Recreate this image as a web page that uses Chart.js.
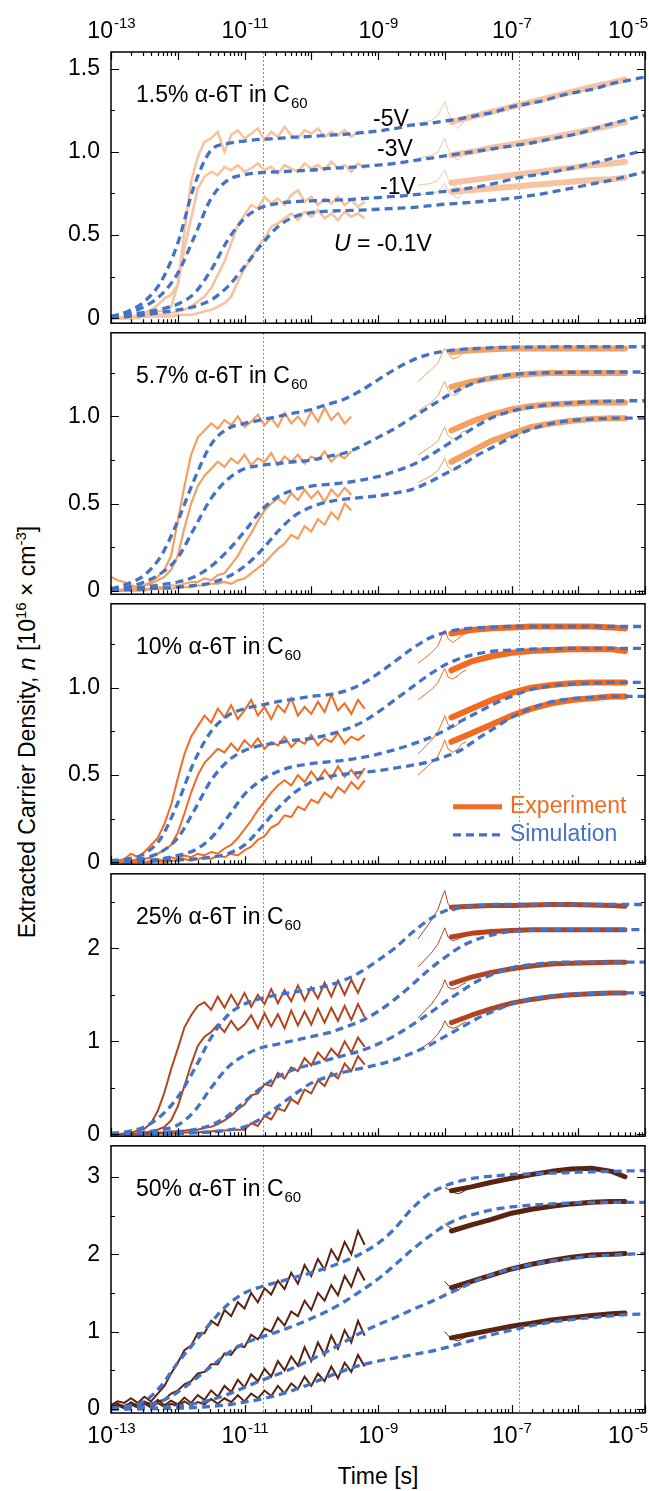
<!DOCTYPE html>
<html>
<head>
<meta charset="utf-8">
<script src="https://cdn.jsdelivr.net/npm/chart.js@4.4.0/dist/chart.umd.min.js"></script>
<style>
body { margin: 0; background: #fff; }
#wrap { position: relative; width: 649px; height: 1491px; overflow: hidden; font-family: "Liberation Sans", Arial, sans-serif; color: #000; }
#wrap canvas { position: absolute; left: 0; }
.lbl { position: absolute; white-space: nowrap; font-size: 23px; line-height: 1; transform: translate(-50%, -50%); }
#ytitle { left: 27px; top: 732px; transform: translate(-50%, -50%) rotate(-90deg); }
#xtitle { left: 378px; top: 1476px; }
.lbl sup { font-size: 15px; line-height: 0; vertical-align: 9px; }
</style>
</head>
<body>
<div id="wrap">
  <div class="lbl" id="ytitle">Extracted Carrier Density, <i>n</i> [10<sup>16</sup> × cm<sup>-3</sup>]</div>
  <div class="lbl" id="xtitle">Time [s]</div>
</div>
<script>
// log10(time) grids
const tSim = [-13, -12.75, -12.5, -12.25, -12, -11.75, -11.5, -11.25, -11, -10.75, -10.5, -10.25, -10, -9.75, -9.5, -9.25, -9, -8.75, -8.5, -8.25, -8, -7.75, -7.5, -7.25, -7, -6.75, -6.5, -6.25, -6, -5.75, -5.5, -5.25, -5];
const tEarly = [-13, -12.9, -12.8, -12.7, -12.6, -12.5, -12.4, -12.3, -12.2, -12.1, -12, -11.9, -11.8, -11.7, -11.6, -11.5, -11.4, -11.3, -11.2, -11.1, -11, -10.9, -10.8, -10.7, -10.6, -10.5, -10.4, -10.3, -10.2, -10.1, -10, -9.9, -9.8, -9.7, -9.6, -9.5, -9.4, -9.3, -9.2];
const tTrans = [-8.4, -8.2, -8.1, -8.04, -8, -7.95, -7.88, -7.8, -7.74, -7.68];
const tLate = [-7.9, -7.6, -7.3, -7, -6.7, -6.4, -6.1, -5.8, -5.5, -5.3];

// series order in every panel: U = -0.1 V, -1 V, -3 V, -5 V
const p1Sim = [
  [0.003,0.01,0.02,0.035,0.05,0.07,0.11,0.19,0.31,0.44,0.55,0.61,0.635,0.643,0.647,0.65,0.655,0.66,0.665,0.675,0.685,0.692,0.70,0.71,0.72,0.735,0.75,0.77,0.79,0.81,0.83,0.855,0.88],
  [0.005,0.02,0.035,0.055,0.085,0.15,0.29,0.47,0.6,0.665,0.69,0.70,0.705,0.708,0.712,0.718,0.725,0.732,0.74,0.75,0.762,0.775,0.79,0.81,0.835,0.855,0.87,0.89,0.91,0.935,0.96,0.985,1.01],
  [0.01,0.03,0.07,0.14,0.27,0.49,0.72,0.83,0.862,0.875,0.88,0.885,0.89,0.9,0.905,0.912,0.92,0.93,0.945,0.96,0.975,0.99,1.005,1.02,1.035,1.05,1.07,1.09,1.11,1.14,1.17,1.195,1.22],
  [0.01,0.04,0.1,0.22,0.45,0.8,1.01,1.05,1.065,1.075,1.08,1.088,1.093,1.1,1.105,1.115,1.125,1.14,1.16,1.17,1.185,1.2,1.22,1.24,1.27,1.29,1.31,1.34,1.36,1.38,1.41,1.43,1.45]
];
const p1Early = [
  [0,0,0,0,0,0.01,0.01,0.01,0.01,0.01,0.02,0.02,0.02,0.03,0.04,0.05,0.07,0.09,0.13,0.22,0.3,0.36,0.43,0.48,0.55,0.57,0.6,0.63,0.59,0.64,0.61,0.65,0.6,0.63,0.59,0.64,0.61,0.63,0.6],
  [0,0,0,0,0.01,0.01,0.01,0.02,0.02,0.03,0.04,0.05,0.07,0.1,0.13,0.18,0.26,0.34,0.45,0.56,0.62,0.68,0.66,0.73,0.69,0.72,0.68,0.74,0.77,0.7,0.73,0.68,0.72,0.69,0.73,0.68,0.71,0.67,0.7],
  [0,0,0,0.01,0.01,0.02,0.03,0.04,0.05,0.07,0.2,0.42,0.6,0.78,0.85,0.88,0.86,0.91,0.89,0.92,0.88,0.9,0.93,0.89,0.91,0.87,0.92,0.9,0.88,0.93,0.9,0.92,0.89,0.94,0.9,0.92,0.88,0.93,0.9],
  [0,0,0.01,0,0.02,0.03,0.05,0.08,0.12,0.14,0.2,0.52,0.82,0.97,1.06,1.08,1.12,1.0,1.1,1.13,1.08,1.11,1.14,1.07,1.12,1.09,1.15,1.1,1.08,1.13,1.11,1.14,1.09,1.12,1.1,1.13,1.09,1.12,1.11]
];
const p1Trans = [
  [0.74,0.75,0.76,0.79,0.81,0.77,0.74,0.72,0.75,0.76],
  [0.80,0.81,0.83,0.87,0.89,0.84,0.80,0.78,0.81,0.82],
  [0.96,0.98,1.0,1.05,1.08,1.02,0.97,0.95,0.98,0.99],
  [1.17,1.19,1.22,1.27,1.30,1.24,1.17,1.14,1.17,1.19]
];
const p1Late = [
  [0.76,0.77,0.78,0.79,0.80,0.81,0.82,0.83,0.835,0.845],
  [0.815,0.83,0.845,0.86,0.875,0.89,0.905,0.92,0.93,0.94],
  [0.98,1.0,1.025,1.045,1.065,1.085,1.11,1.135,1.16,1.18],
  [1.18,1.21,1.24,1.27,1.30,1.33,1.36,1.39,1.415,1.435]
];

const p2Sim = [
  [0.003,0.006,0.01,0.015,0.02,0.03,0.045,0.08,0.14,0.23,0.34,0.43,0.48,0.51,0.525,0.535,0.545,0.56,0.58,0.62,0.67,0.72,0.78,0.83,0.88,0.92,0.95,0.97,0.98,0.985,0.99,0.99,0.99],
  [0.005,0.01,0.02,0.035,0.05,0.08,0.14,0.23,0.34,0.46,0.54,0.58,0.6,0.61,0.62,0.635,0.655,0.685,0.72,0.77,0.83,0.89,0.95,1.0,1.03,1.05,1.065,1.075,1.08,1.085,1.088,1.09,1.09],
  [0.01,0.02,0.05,0.1,0.19,0.36,0.53,0.64,0.7,0.72,0.73,0.74,0.75,0.77,0.79,0.83,0.88,0.93,0.99,1.05,1.11,1.16,1.2,1.225,1.24,1.247,1.25,1.252,1.254,1.255,1.255,1.255,1.255],
  [0.01,0.04,0.09,0.2,0.4,0.64,0.84,0.93,0.96,0.98,1.0,1.02,1.04,1.07,1.1,1.15,1.21,1.27,1.32,1.355,1.375,1.385,1.39,1.395,1.397,1.398,1.399,1.4,1.4,1.4,1.4,1.4,1.4]
];
const p2Early = [
  [0,0,0,0,0,0,0.01,0.01,0.01,0.01,0.02,0.02,0.02,0.03,0.03,0.04,0.04,0.05,0.04,0.06,0.07,0.1,0.13,0.16,0.2,0.24,0.27,0.32,0.3,0.37,0.34,0.41,0.38,0.45,0.41,0.5,0.46,null,null],
  [0,0,0,0,0.01,0.01,0.01,0.02,0.02,0.03,0.03,0.04,0.05,0.05,0.07,0.06,0.09,0.1,0.15,0.2,0.27,0.33,0.4,0.46,0.5,0.53,0.5,0.56,0.52,0.58,0.53,0.57,0.51,0.58,0.54,0.59,0.55,null,null],
  [0,0,0.01,0.01,0.02,0.03,0.04,0.06,0.08,0.12,0.2,0.36,0.5,0.6,0.66,0.7,0.74,0.71,0.76,0.73,0.78,0.72,0.76,0.74,0.79,0.72,0.77,0.74,0.78,0.73,0.77,0.75,0.8,0.74,0.78,0.76,0.8,null,null],
  [0.08,0.06,0.05,0.03,0.02,0.03,0.05,0.08,0.12,0.2,0.4,0.6,0.78,0.88,0.92,0.96,0.93,0.98,0.95,1.0,0.94,0.97,1.01,0.95,0.99,0.94,1.02,0.96,1.0,0.95,1.03,0.97,1.05,0.98,1.02,0.96,1.0,null,null]
];
const p2Trans = [
  [0.62,0.66,0.69,0.73,0.76,0.71,0.69,0.7,0.73,0.74],
  [0.78,0.83,0.86,0.91,0.94,0.89,0.87,0.88,0.91,0.92],
  [1.03,1.08,1.12,1.17,1.2,1.15,1.12,1.13,1.16,1.17],
  [1.2,1.27,1.31,1.36,1.39,1.36,1.33,1.34,1.36,1.37]
];
const p2Late = [
  [0.74,0.8,0.86,0.9,0.94,0.96,0.975,0.985,0.99,0.99],
  [0.92,0.97,1.01,1.04,1.06,1.07,1.075,1.08,1.08,1.08],
  [1.17,1.2,1.22,1.235,1.245,1.25,1.25,1.25,1.25,1.25],
  [1.37,1.38,1.385,1.39,1.39,1.39,1.39,1.39,1.39,1.39]
];

const p3Sim = [
  [0.002,0.004,0.007,0.01,0.015,0.02,0.03,0.05,0.1,0.2,0.31,0.4,0.46,0.49,0.505,0.515,0.525,0.54,0.555,0.575,0.605,0.645,0.71,0.77,0.83,0.875,0.91,0.93,0.94,0.945,0.95,0.95,0.95],
  [0.003,0.006,0.01,0.02,0.04,0.07,0.14,0.26,0.39,0.47,0.52,0.55,0.565,0.575,0.585,0.6,0.62,0.645,0.675,0.71,0.755,0.81,0.86,0.91,0.95,0.985,1.005,1.017,1.023,1.027,1.03,1.03,1.03],
  [0.005,0.01,0.025,0.06,0.14,0.3,0.47,0.58,0.64,0.67,0.685,0.7,0.71,0.73,0.76,0.8,0.86,0.93,1.0,1.07,1.13,1.17,1.195,1.21,1.215,1.22,1.222,1.224,1.225,1.225,1.225,1.225,1.225],
  [0.01,0.02,0.05,0.14,0.34,0.58,0.75,0.84,0.88,0.9,0.92,0.935,0.95,0.96,0.98,1.02,1.08,1.15,1.22,1.28,1.315,1.335,1.343,1.347,1.35,1.35,1.35,1.35,1.35,1.35,1.35,1.35,1.35]
];
const p3Early = [
  [0,0,0,0,0,0,0,0.01,0,0.01,0.01,0.02,0.01,0.02,0.03,0.02,0.04,0.03,0.05,0.04,0.07,0.09,0.13,0.15,0.2,0.22,0.27,0.26,0.32,0.3,0.36,0.34,0.4,0.37,0.43,0.4,0.46,0.42,0.47],
  [0,0,0,0,0.01,0,0.01,0.02,0.01,0.03,0.02,0.04,0.03,0.05,0.04,0.06,0.05,0.08,0.1,0.14,0.19,0.24,0.3,0.35,0.4,0.44,0.47,0.44,0.5,0.46,0.52,0.47,0.53,0.48,0.55,0.49,0.53,0.48,0.54],
  [0,0,0.01,0.01,0.02,0.02,0.03,0.05,0.07,0.1,0.17,0.28,0.4,0.5,0.57,0.61,0.65,0.63,0.68,0.64,0.7,0.66,0.71,0.65,0.69,0.67,0.72,0.66,0.7,0.68,0.73,0.67,0.71,0.69,0.74,0.68,0.72,0.7,0.73],
  [0,0.01,0.02,0.05,0.03,0.06,0.1,0.14,0.22,0.33,0.48,0.62,0.72,0.78,0.84,0.8,0.88,0.83,0.9,0.82,0.87,0.93,0.84,0.89,0.82,0.9,0.86,0.94,0.84,0.89,0.85,0.92,0.86,0.96,0.87,0.91,0.85,0.93,0.88]
];
const p3Trans = [
  [0.5,0.57,0.61,0.66,0.7,0.65,0.63,0.65,0.68,0.69],
  [0.62,0.7,0.75,0.8,0.84,0.79,0.77,0.79,0.82,0.83],
  [0.93,0.99,1.03,1.08,1.11,1.06,1.05,1.07,1.09,1.1],
  [1.14,1.2,1.24,1.3,1.33,1.28,1.26,1.28,1.3,1.31]
];
const p3Late = [
  [0.69,0.74,0.79,0.84,0.88,0.91,0.93,0.94,0.95,0.95],
  [0.83,0.88,0.93,0.97,1.0,1.015,1.025,1.03,1.03,1.03],
  [1.1,1.15,1.18,1.2,1.21,1.215,1.22,1.22,1.22,1.21],
  [1.31,1.33,1.34,1.345,1.35,1.35,1.35,1.35,1.345,1.34]
];

const p4Sim = [
  [0.001,0.002,0.004,0.007,0.01,0.015,0.025,0.045,0.08,0.17,0.3,0.43,0.55,0.62,0.67,0.71,0.75,0.8,0.87,0.95,1.05,1.15,1.25,1.33,1.4,1.45,1.48,1.5,1.51,1.515,1.52,1.52,1.52],
  [0.002,0.005,0.01,0.02,0.03,0.05,0.1,0.2,0.35,0.5,0.62,0.7,0.75,0.8,0.85,0.9,0.97,1.06,1.17,1.29,1.42,1.54,1.65,1.73,1.79,1.82,1.84,1.85,1.85,1.85,1.85,1.85,1.85],
  [0.005,0.01,0.025,0.05,0.1,0.25,0.5,0.72,0.85,0.93,0.97,1.01,1.05,1.09,1.15,1.22,1.32,1.45,1.6,1.76,1.9,2.02,2.1,2.15,2.18,2.19,2.2,2.2,2.2,2.2,2.2,2.2,2.2],
  [0.01,0.03,0.08,0.2,0.4,0.7,1.04,1.28,1.4,1.46,1.5,1.53,1.56,1.6,1.66,1.75,1.87,2.0,2.16,2.3,2.4,2.44,2.46,2.47,2.47,2.47,2.47,2.47,2.47,2.47,2.47,2.47,2.47]
];
const p4Early = [
  [0,0,0,0,0,0,0,0.01,0.01,0.01,0.01,0.02,0.02,0.02,0.03,0.03,0.04,0.04,0.05,0.05,0.05,0.12,0.09,0.2,0.16,0.28,0.25,0.38,0.33,0.48,0.44,0.58,0.52,0.66,0.6,0.76,0.68,0.84,0.75],
  [0,0,0,0,0,0.01,0.01,0.02,0.02,0.03,0.03,0.04,0.05,0.05,0.07,0.08,0.11,0.15,0.2,0.27,0.32,0.42,0.44,0.54,0.52,0.66,0.6,0.72,0.68,0.82,0.74,0.88,0.8,0.92,0.84,1.0,0.88,1.04,0.94],
  [0,0,0,0.01,0.01,0.02,0.03,0.05,0.08,0.15,0.3,0.52,0.75,0.95,1.05,1.1,1.18,1.1,1.22,1.12,1.18,1.28,1.14,1.3,1.16,1.29,1.14,1.33,1.17,1.32,1.18,1.35,1.2,1.36,1.22,1.38,1.23,1.4,1.26],
  [0,0,0.01,0.02,0.04,0.06,0.12,0.25,0.45,0.7,0.92,1.15,1.28,1.38,1.42,1.34,1.48,1.36,1.5,1.38,1.52,1.37,1.5,1.4,1.56,1.41,1.55,1.43,1.6,1.44,1.58,1.46,1.63,1.48,1.65,1.5,1.66,1.52,1.68]
];
const p4Trans = [
  [0.9,1.0,1.08,1.15,1.22,1.16,1.14,1.16,1.19,1.21],
  [1.25,1.4,1.5,1.58,1.66,1.58,1.56,1.58,1.61,1.63],
  [1.8,1.95,2.05,2.15,2.22,2.12,2.08,2.1,2.12,2.13],
  [2.1,2.3,2.42,2.55,2.62,2.48,2.4,2.42,2.44,2.45]
];
const p4Late = [
  [1.2,1.28,1.35,1.41,1.45,1.48,1.5,1.51,1.52,1.52],
  [1.62,1.69,1.74,1.78,1.81,1.83,1.84,1.845,1.85,1.85],
  [2.12,2.16,2.18,2.19,2.2,2.2,2.2,2.2,2.2,2.2],
  [2.44,2.45,2.46,2.46,2.465,2.47,2.47,2.465,2.46,2.45]
];

const p5Sim = [
  [0.001,0.002,0.004,0.007,0.012,0.02,0.035,0.055,0.09,0.13,0.18,0.25,0.33,0.42,0.5,0.57,0.62,0.66,0.7,0.74,0.79,0.85,0.91,0.97,1.02,1.07,1.11,1.14,1.165,1.185,1.205,1.22,1.23],
  [0.002,0.005,0.01,0.02,0.04,0.07,0.12,0.19,0.28,0.37,0.45,0.54,0.64,0.75,0.87,0.99,1.09,1.18,1.28,1.37,1.47,1.57,1.67,1.75,1.81,1.86,1.9,1.93,1.955,1.975,1.99,2.0,2.01],
  [0.005,0.015,0.04,0.1,0.22,0.38,0.55,0.72,0.85,0.93,1.0,1.08,1.17,1.27,1.39,1.53,1.68,1.86,2.05,2.22,2.37,2.47,2.53,2.58,2.61,2.63,2.645,2.655,2.665,2.67,2.67,2.67,2.67],
  [0.01,0.04,0.1,0.3,0.6,0.86,1.12,1.35,1.5,1.58,1.64,1.7,1.76,1.83,1.91,2.01,2.14,2.33,2.58,2.77,2.88,2.95,2.99,3.01,3.03,3.035,3.045,3.05,3.06,3.065,3.07,3.075,3.08]
];
const p5Early = [
  [0.02,0.05,0.01,0.06,0.02,0.07,0.02,0.08,0.03,0.07,0.04,0.1,0.05,0.09,0.06,0.13,0.07,0.14,0.09,0.18,0.1,0.2,0.14,0.24,0.17,0.3,0.2,0.33,0.26,0.42,0.3,0.46,0.36,0.55,0.4,0.6,0.48,0.7,0.55],
  [0.03,0.07,0.02,0.09,0.03,0.1,0.04,0.12,0.05,0.11,0.06,0.15,0.08,0.18,0.12,0.24,0.16,0.3,0.22,0.38,0.28,0.45,0.36,0.52,0.42,0.62,0.5,0.68,0.56,0.8,0.62,0.86,0.7,0.95,0.78,1.02,0.86,1.14,0.95],
  [0.02,0.06,0.04,0.08,0.05,0.09,0.07,0.1,0.12,0.2,0.24,0.32,0.36,0.46,0.48,0.58,0.58,0.72,0.7,0.82,0.8,0.96,0.9,1.04,1.0,1.18,1.08,1.26,1.2,1.4,1.28,1.5,1.4,1.6,1.47,1.72,1.58,1.82,1.66],
  [0.05,0.1,0.08,0.14,0.08,0.16,0.1,0.2,0.3,0.46,0.6,0.76,0.82,0.98,0.98,1.14,1.08,1.28,1.2,1.38,1.3,1.5,1.38,1.56,1.48,1.66,1.55,1.76,1.62,1.86,1.72,1.94,1.8,2.06,1.92,2.16,2.0,2.3,2.12]
];
const p5Trans = [
  [null,null,null,null,1.0,0.95,0.9,0.88,0.91,0.93],
  [null,null,null,null,1.65,1.6,1.55,1.53,1.58,1.6],
  [null,null,null,null,2.4,2.36,2.32,2.3,2.33,2.35],
  [null,null,null,null,2.86,2.84,2.8,2.78,2.8,2.83]
];
const p5Late = [
  [0.92,0.97,1.02,1.07,1.11,1.15,1.18,1.21,1.23,1.24],
  [1.57,1.65,1.73,1.81,1.87,1.92,1.96,1.99,2.0,2.01],
  [2.3,2.38,2.45,2.53,2.58,2.62,2.65,2.67,2.68,2.68],
  [2.82,2.87,2.93,2.98,3.03,3.07,3.1,3.11,3.07,3.0]
];

// axis ticks
const xDecades = [-13, -12, -11, -10, -9, -8, -7, -6, -5];
const xLabelled = [-13, -11, -9, -7, -5];
const yMajor = [[0, 0.5, 1, 1.5], [0, 0.5, 1], [0, 0.5, 1], [0, 1, 2], [0, 1, 2, 3]];
const yLabels = [['0', '0.5', '1.0', '1.5'], ['0', '0.5', '1.0'], ['0', '0.5', '1.0'], ['0', '1', '2'], ['0', '1', '2', '3']];
const yMinorStep = [0.25, 0.25, 0.25, 0.5, 0.5];
const yRanges = [[-0.03, 1.6], [-0.02, 1.48], [-0.01, 1.48], [-0.02, 2.8], [-0.05, 3.4]];
const markerTimes = [1.9e-11, 1.3e-7];
const titles = ['1.5%', '5.7%', '10%', '25%', '50%'];

const panelData = [
  [p1Sim, p1Early, p1Trans, p1Late],
  [p2Sim, p2Early, p2Trans, p2Late],
  [p3Sim, p3Early, p3Trans, p3Late],
  [p4Sim, p4Early, p4Trans, p4Late],
  [p5Sim, p5Early, p5Trans, p5Late]
];

// layout / styles
const FONT = '"Liberation Sans", Arial, sans-serif';
const SIM_COLOR = '#4472C4';
const EXP_COLORS = ['#F8C3A0', '#F4A060', '#F26B21', '#B4441E', '#5A2410'];
const EARLY_W = [2.6, 2.2, 2, 2, 2];
const bounds = [52, 328, 599, 869, 1141, 1413];
const PAGE_W = 649, PLOT_L = 111, PLOT_R = 645;

function pts(t, v) {
  return t.map((e, i) => ({ x: Math.pow(10, e), y: v[i] }));
}

function drawPow(ctx, x, base, exp) {
  ctx.font = '23px ' + FONT;
  const w1 = ctx.measureText('10').width;
  ctx.font = '15px ' + FONT;
  const s = String(exp);
  const w2 = ctx.measureText(s).width;
  let x0 = x - (w1 + w2) / 2;
  x0 = Math.min(x0, PAGE_W - w1 - w2 - 2);
  ctx.textAlign = 'left';
  ctx.textBaseline = 'alphabetic';
  ctx.font = '23px ' + FONT;
  ctx.fillText('10', x0, base);
  ctx.font = '15px ' + FONT;
  ctx.fillText(s, x0 + w1 + 1, base - 10);
}

function panelPlugin(idx) {
  return {
    id: 'panel' + idx,
    beforeDatasetsDraw(chart) {
      const { ctx, chartArea: a, scales: { x } } = chart;
      ctx.save();
      ctx.strokeStyle = '#8c8c8c';
      ctx.lineWidth = 1;
      ctx.setLineDash([2, 2]);
      markerTimes.forEach(m => {
        const px = Math.round(x.getPixelForValue(m)) + 0.5;
        ctx.beginPath();
        ctx.moveTo(px, a.top);
        ctx.lineTo(px, a.bottom);
        ctx.stroke();
      });
      ctx.restore();
    },
    afterDraw(chart) {
      const { ctx, chartArea: a, scales: { x, y } } = chart;
      ctx.save();
      ctx.strokeStyle = '#000';
      ctx.lineWidth = 1.5;
      ctx.strokeRect(a.left, a.top, a.right - a.left, a.bottom - a.top);

      // inward x ticks
      ctx.lineWidth = 1.2;
      ctx.beginPath();
      xDecades.forEach(e => {
        for (let m = 1; m <= 9; m++) {
          if (e === -5 && m > 1) break;
          const px = Math.round(x.getPixelForValue(m * Math.pow(10, e))) + 0.5;
          const len = m === 1 ? 8 : 4;
          ctx.moveTo(px, a.bottom);
          ctx.lineTo(px, a.bottom - len);
          if (idx === 0) {
            ctx.moveTo(px, a.top);
            ctx.lineTo(px, a.top + len);
          }
        }
      });
      // inward y ticks, both sides
      const st = yMinorStep[idx];
      for (let k = 0; k * st <= yRanges[idx][1]; k++) {
        const py = Math.round(y.getPixelForValue(k * st)) + 0.5;
        const len = k % 2 === 0 ? 8 : 4;
        ctx.moveTo(a.left, py);
        ctx.lineTo(a.left + len, py);
        ctx.moveTo(a.right, py);
        ctx.lineTo(a.right - len, py);
      }
      ctx.stroke();

      // panel title
      ctx.fillStyle = '#000';
      ctx.textAlign = 'left';
      ctx.textBaseline = 'alphabetic';
      ctx.font = '23px ' + FONT;
      const t = titles[idx] + ' \u03B1-6T in C';
      const tb = a.top + 50;
      ctx.fillText(t, 136, tb);
      const tw = ctx.measureText(t).width;
      ctx.font = '15px ' + FONT;
      ctx.fillText('60', 136 + tw + 1, tb + 6);

      // x tick labels
      if (idx === 0) xLabelled.forEach(e => drawPow(ctx, x.getPixelForValue(Math.pow(10, e)), a.top - 14, e));
      if (idx === 4) xLabelled.forEach(e => drawPow(ctx, x.getPixelForValue(Math.pow(10, e)), a.bottom + 30, e));

      // bias labels
      if (idx === 0) {
        ctx.font = '23px ' + FONT;
        ctx.fillText('-5V', 373, a.top + 74);
        ctx.fillText('-3V', 377, a.top + 104);
        ctx.fillText('-1V', 380, a.top + 142);
        ctx.font = 'italic 23px ' + FONT;
        ctx.fillText('U', 334, a.top + 199);
        const uw = ctx.measureText('U').width;
        ctx.font = '23px ' + FONT;
        ctx.fillText(' = -0.1V', 334 + uw, a.top + 199);
      }

      // legend
      if (idx === 2) {
        const ly1 = a.top + 203, ly2 = a.top + 231;
        ctx.strokeStyle = EXP_COLORS[2];
        ctx.lineWidth = 5;
        ctx.beginPath();
        ctx.moveTo(453, ly1);
        ctx.lineTo(502, ly1);
        ctx.stroke();
        ctx.strokeStyle = SIM_COLOR;
        ctx.lineWidth = 3.3;
        ctx.setLineDash([8, 5]);
        ctx.beginPath();
        ctx.moveTo(453, ly2);
        ctx.lineTo(500, ly2);
        ctx.stroke();
        ctx.setLineDash([]);
        ctx.font = '23px ' + FONT;
        ctx.textBaseline = 'middle';
        ctx.fillStyle = EXP_COLORS[2];
        ctx.fillText('Experiment', 510, ly1);
        ctx.fillStyle = SIM_COLOR;
        ctx.fillText('Simulation', 510, ly2);
      }
      ctx.restore();
    }
  };
}

const wrap = document.getElementById('wrap');

function makePanel(idx) {
  const [sim, early, trans, late] = panelData[idx];
  const padTop = idx === 0 ? bounds[0] : 20;
  const padBottom = idx === 4 ? 1491 - bounds[5] : 20;
  const h = padTop + bounds[idx + 1] - bounds[idx] + padBottom;
  const canvas = document.createElement('canvas');
  canvas.width = PAGE_W;
  canvas.height = h;
  canvas.style.width = PAGE_W + 'px';
  canvas.style.height = h + 'px';
  canvas.style.top = (bounds[idx] - padTop) + 'px';
  wrap.appendChild(canvas);

  const col = EXP_COLORS[idx];
  const thick = idx < 3 ? 6 : 5;
  const datasets = [];
  for (let k = 0; k < 4; k++) {
    datasets.push({ data: pts(tSim, sim[k]), borderColor: SIM_COLOR, borderWidth: 3.3, borderDash: [8, 5], cubicInterpolationMode: 'monotone', order: 0 });
    datasets.push({ data: pts(tEarly, early[k]), borderColor: col, borderWidth: EARLY_W[idx], order: 1 });
    datasets.push({ data: pts(tTrans, trans[k]), borderColor: col, borderWidth: 1, order: 1 });
    datasets.push({ data: pts(tLate, late[k]), borderColor: col, borderWidth: thick, borderCapStyle: 'round', borderJoinStyle: 'round', order: 1 });
  }

  return new Chart(canvas, {
    type: 'line',
    data: { datasets },
    options: {
      responsive: false,
      animation: false,
      devicePixelRatio: 1,
      layout: { padding: { left: 0, right: PAGE_W - PLOT_R, top: padTop, bottom: padBottom } },
      plugins: { legend: { display: false }, tooltip: { enabled: false } },
      elements: { point: { radius: 0 }, line: { tension: 0 } },
      scales: {
        x: { type: 'logarithmic', min: 1e-13, max: 1e-5, display: false },
        y: {
          type: 'linear',
          min: yRanges[idx][0],
          max: yRanges[idx][1],
          afterFit: s => { s.width = PLOT_L; },
          afterBuildTicks: s => { s.ticks = yMajor[idx].map(v => ({ value: v })); },
          grid: { display: false, drawTicks: false },
          border: { display: false },
          ticks: {
            padding: 11,
            color: '#000',
            font: { family: FONT, size: 23 },
            callback: v => yLabels[idx][yMajor[idx].indexOf(v)]
          }
        }
      }
    },
    plugins: [panelPlugin(idx)]
  });
}

for (let i = 0; i < 5; i++) makePanel(i);
</script>
</body>
</html>
